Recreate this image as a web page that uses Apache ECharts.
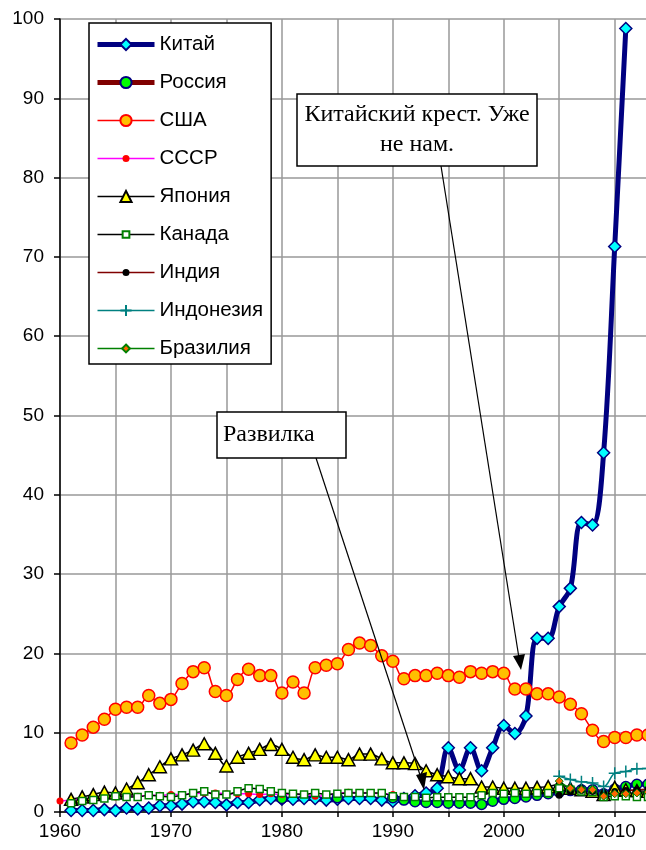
<!DOCTYPE html>
<html><head><meta charset="utf-8">
<script src="https://cdn.jsdelivr.net/npm/echarts@6/dist/echarts.min.js"></script>
<style>html,body{margin:0;padding:0;background:#fff}#c{width:646px;height:850px}</style>
</head><body><div id="c"></div>
<script>
var years = [];
for (var y = 1960; y <= 2013; y++) years.push(y);

// values per year 1960..2013 (null = no data)
var china = [null,0.2,0.2,0.2,0.3,0.2,0.5,0.4,0.5,0.8,0.8,1.0,1.3,1.3,1.2,0.9,1.2,1.2,1.55,1.7,1.6,1.6,1.7,1.7,1.5,1.6,1.7,1.7,1.7,1.5,1.35,1.7,2.05,2.4,3.0,8.1,5.3,8.1,5.2,8.1,10.9,9.9,12.1,21.9,21.9,25.9,28.2,36.5,36.2,45.3,71.3,98.8,null,null];
var russia = [null,null,null,null,null,null,null,null,null,null,null,null,null,null,null,null,null,null,null,null,1.7,null,null,null,null,1.8,null,null,null,null,1.8,1.5,1.3,1.2,1.2,1.1,1.1,1.1,0.95,1.35,1.6,1.7,1.9,2.1,2.3,2.5,2.7,2.8,2.8,2.3,2.9,3.2,3.5,3.5];
var usa = [null,8.7,9.7,10.7,11.7,12.95,13.2,13.2,14.7,13.7,14.2,16.2,17.7,18.2,15.2,14.7,16.7,18.0,17.2,17.2,15.0,16.4,15.0,18.2,18.5,18.7,20.5,21.3,21.0,19.7,19.0,16.8,17.2,17.2,17.5,17.2,17.0,17.7,17.5,17.7,17.5,15.5,15.5,14.9,14.9,14.5,13.6,12.4,10.3,8.9,9.4,9.4,9.7,9.7];
var ussr = [1.4,1.5,1.6,1.7,1.8,1.9,2.0,2.0,2.1,2.1,2.2,2.2,2.3,2.4,2.4,2.3,2.3,2.3,2.2,2.3,2.2,2.2,2.2,2.0,2.1,2.3,2.5,2.4,2.4,2.3,2.2,null,null,null,null,null,null,null,null,null,null,null,null,null,null,null,null,null,null,null,null,null,null,null];
var japan = [null,1.6,1.9,2.2,2.5,2.4,2.9,3.7,4.7,5.7,6.7,7.2,7.8,8.6,7.4,5.8,6.9,7.4,7.9,8.5,7.9,6.9,6.6,7.2,6.9,6.9,6.6,7.3,7.3,6.7,6.2,6.2,6.1,5.2,4.7,4.45,4.2,4.2,3.15,3.15,3.0,3.0,3.0,3.1,3.2,3.5,3.0,2.8,2.6,2.2,3.1,2.8,2.7,2.6];
var canada = [null,1.1,1.4,1.5,1.7,2.0,1.9,1.9,2.1,2.0,1.9,2.1,2.4,2.6,2.2,2.2,2.6,3.0,2.9,2.6,2.4,2.3,2.2,2.4,2.2,2.3,2.4,2.4,2.4,2.4,2.0,1.9,1.9,1.8,1.85,1.85,1.85,1.85,2.1,2.4,2.3,2.4,2.3,2.4,2.4,3.0,2.8,2.6,2.5,1.9,2.0,2.0,1.9,1.9];
var india = [null,null,null,null,null,null,null,null,null,null,null,null,null,null,null,null,null,null,null,null,null,null,null,null,null,null,null,null,null,null,null,null,null,null,null,null,null,null,null,null,null,null,null,null,null,2.1,2.6,2.7,2.6,2.4,2.6,2.7,2.8,2.9];
var indonesia = [null,null,null,null,null,null,null,null,null,null,null,null,null,null,null,null,null,null,null,null,null,null,null,null,null,null,null,null,null,null,null,null,null,null,null,null,null,null,null,null,null,null,null,null,null,4.5,4.1,3.8,3.65,3.2,4.9,5.1,5.45,5.5];
var brazil = [null,null,null,null,null,null,null,null,null,null,null,null,null,null,null,null,null,null,null,null,null,null,null,null,null,null,null,null,null,null,null,null,null,null,null,null,null,null,null,null,null,null,null,null,null,3.9,3.0,2.8,2.8,2.0,2.3,2.3,2.4,2.5];

var names = ['Китай','Россия','США','СССР','Япония','Канада','Индия','Индонезия','Бразилия'];
var yTicks = [0,10,20,30,40,50,60,70,80,90,100];
var xLabels = [1960,1970,1980,1990,2000,2010];

function pairs(arr){ return years.map(function(yr,i){ return [yr, arr[i]]; }); }

// padded symbol paths (bounding box 0..20) so legend copies stay small
var PLUS = 'path://M0,10L20,10M10,0L10,20';
var SMALL_CIRCLE = 'path://M0,0M20,20M3.75,10a6.25,6.25 0 1,0 12.5,0a6.25,6.25 0 1,0 -12.5,0z';
var SMALL_SQUARE = 'path://M0,0M20,20M4,4L16,4L16,16L4,16z';
var SMALL_DIAMOND = 'path://M0,0M20,20M10,3L17,10L10,17L3,10z';

var chart = echarts.init(document.getElementById('c'), null, {renderer:'canvas'});
var S = 0.35;
var series = [
 {name:names[0], data:pairs(china), lineStyle:{color:'#000080',width:5}, symbol:'diamond', symbolSize:12,
  itemStyle:{color:'#00FFFF',borderColor:'#000080',borderWidth:1.5}},
 {name:names[1], data:pairs(russia), lineStyle:{color:'#000080',width:5}, symbol:'circle', symbolSize:10,
  itemStyle:{color:'#00FF00',borderColor:'#000080',borderWidth:1.5}},
 {name:names[2], data:pairs(usa), lineStyle:{color:'#FF0000',width:1.5}, symbol:'circle', symbolSize:12,
  itemStyle:{color:'#FFC000',borderColor:'#FF0000',borderWidth:1.5}},
 {name:names[3], data:pairs(ussr), lineStyle:{color:'#FF00FF',width:1.5}, symbol:SMALL_CIRCLE, symbolSize:11.2,
  itemStyle:{color:'#FF0000',borderColor:'#FF0000',borderWidth:0}},
 {name:names[4], data:pairs(japan), lineStyle:{color:'#000000',width:1.5}, symbol:'triangle', symbolSize:[13,12],
  itemStyle:{color:'#FFFF00',borderColor:'#000000',borderWidth:1.5}},
 {name:names[5], data:pairs(canada), lineStyle:{color:'#000000',width:1.5}, symbol:SMALL_SQUARE, symbolSize:11.7,
  itemStyle:{color:'#FFFFFF',borderColor:'#008000',borderWidth:1.5}},
 {name:names[6], data:pairs(india), lineStyle:{color:'#800000',width:1.5}, symbol:SMALL_CIRCLE, symbolSize:11.2,
  itemStyle:{color:'#000000',borderColor:'#000000',borderWidth:0}},
 {name:names[7], data:pairs(indonesia), lineStyle:{color:'#008080',width:1.5}, symbol:PLUS, symbolSize:12,
  itemStyle:{color:'#008080',borderColor:'#008080',borderWidth:1.5}},
 {name:names[8], data:pairs(brazil), lineStyle:{color:'#008000',width:1.5}, symbol:SMALL_DIAMOND, symbolSize:11.4,
  itemStyle:{color:'#FF6600',borderColor:'#008000',borderWidth:1}}
];
series.forEach(function(s){
  s.type='line'; s.smooth=S; s.connectNulls=false; s.showAllSymbol=true; s.animation=false;
  s.emphasis={disabled:true}; s.clip=true;
});

var legendData = names.map(function(n,i){
  var w = (i<2) ? 5 : 1.5;
  var d = {name:n, lineStyle:{width:w}};
  if (i===1) d.lineStyle.color = '#800000';
  return d;
});

var option = {
  animation:false,
  backgroundColor:'#ffffff',
  textStyle:{fontFamily:'Liberation Sans, Arial, sans-serif'},
  grid:{left:60, width:588, top:19, bottom:38, containLabel:false, outerBoundsMode:'none'},
  xAxis:{type:'value', min:1960, max:2013, interval:5,
    axisLine:{show:true,onZero:false,lineStyle:{color:'#000',width:1.5}},
    axisTick:{show:true,length:5,lineStyle:{color:'#000',width:1.5}},
    axisLabel:{color:'#000',fontSize:19,margin:10,
      formatter:function(v){ return xLabels.indexOf(v)>=0 ? String(v) : ''; }},
    splitLine:{show:true,lineStyle:{color:'#999999',width:1.5}}
  },
  yAxis:{type:'value', min:0, max:100, interval:10,
    axisLine:{show:true,lineStyle:{color:'#000',width:1.5}},
    axisTick:{show:true,length:6,lineStyle:{color:'#000',width:1.5}},
    axisLabel:{color:'#000',fontSize:19,margin:16,
      formatter:function(v){ return yTicks.indexOf(v)>=0 ? String(v) : ''; }},
    splitLine:{show:true,lineStyle:{color:'#999999',width:1.5}}
  },
  legend:{orient:'vertical', left:89, top:23, itemWidth:57, itemHeight:14, itemGap:17.0,
    padding:[11,8,5,6], backgroundColor:'#ffffff', borderColor:'#000', borderWidth:1.5,
    textStyle:{fontSize:20.5,lineHeight:20,color:'#000'}, selectedMode:false,
    data:legendData},
  series:series,
  graphic:[
    {type:'line', shape:{x1:316,y1:458,x2:421,y2:778}, style:{stroke:'#000',lineWidth:1.2}, z:100},
    {type:'polygon', shape:{points:[[424,790],[416,775],[427,772]]}, style:{fill:'#000'}, z:100},
    {type:'line', shape:{x1:441,y1:166,x2:519,y2:658}, style:{stroke:'#000',lineWidth:1.2}, z:100},
    {type:'polygon', shape:{points:[[521,670],[513,656],[525,654]]}, style:{fill:'#000'}, z:100},
    {type:'rect', shape:{x:217,y:412,width:129,height:46}, style:{fill:'#fff',stroke:'#000',lineWidth:1.5}, z:101},
    {type:'text', x:223, y:435, style:{text:'Развилка', font:'24px "Liberation Serif", "Times New Roman", serif', fill:'#000', verticalAlign:'middle', align:'left'}, z:102},
    {type:'rect', shape:{x:297,y:94,width:240,height:72}, style:{fill:'#fff',stroke:'#000',lineWidth:1.5}, z:101},
    {type:'text', x:417, y:115, style:{text:'Китайский крест. Уже', font:'24px "Liberation Serif", "Times New Roman", serif', fill:'#000', verticalAlign:'middle', align:'center'}, z:102},
    {type:'text', x:417, y:145, style:{text:'не нам.', font:'24px "Liberation Serif", "Times New Roman", serif', fill:'#000', verticalAlign:'middle', align:'center'}, z:102}
  ]
};
chart.setOption(option);
</script></body></html>
